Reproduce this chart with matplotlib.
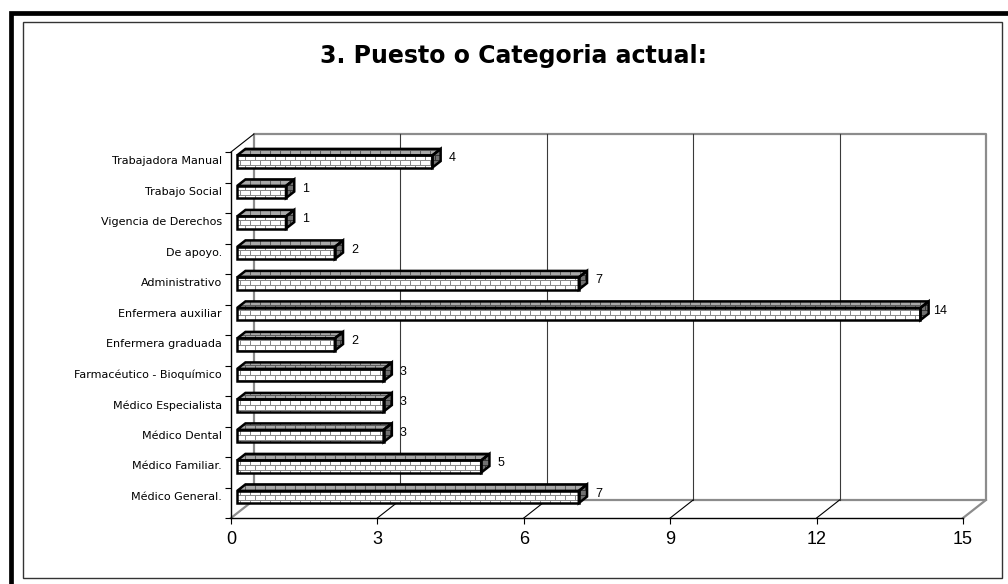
import numpy as np
import matplotlib
matplotlib.use("Agg")
import matplotlib.pyplot as plt
from matplotlib.colors import to_rgb
from matplotlib.patches import Polygon, Rectangle

# Puesto o categoria actual, bottom row first
categories = ["Médico General.", "Médico Familiar.", "Médico Dental",
              "Médico Especialista", "Farmacéutico - Bioquímico",
              "Enfermera graduada", "Enfermera auxiliar", "Administrativo",
              "De apoyo.", "Vigencia de Derechos", "Trabajo Social",
              "Trabajadora Manual"]
counts = [7, 5, 3, 3, 3, 2, 14, 7, 2, 1, 1, 4]
xticks = [0, 3, 6, 9, 12, 15]
title = "3. Puesto o Categoria actual:"

W, H, DPI = 1008, 584, 100
XMAX = 15
NCAT = len(categories)

# oblique depth axis: data units travelled per unit of depth
DX, DY = 0.47, 0.59
BAR_D0, BAR_D1 = 0.27, 0.63     # bar depth span
BAR_LO, BAR_HI = 0.33, 0.73     # bar height within its slot
LABEL_D = 0.38                  # depth at which category labels sit
VAL_DX = 0.53                   # value label centre, right of bar end


def proj(x, y, d):
    return (x + d * DX, y + d * DY)


def brick_texture(brick, mortar):
    """Full-canvas running-bond brick bitmap, fixed to the pixel grid."""
    r, c = np.mgrid[:H, :W]
    odd = (r // 5) % 2 == 1
    mortar_px = (r % 5 == 0) | (c % 10 == np.where(odd, 5, 0))
    img = np.empty((H, W, 3))
    img[:] = to_rgb(brick)
    img[mortar_px] = to_rgb(mortar)
    return img


tex_front = brick_texture("#ffffff", "#8a8a8a")
tex_top = brick_texture("#a8a8a8", "#5e5e5e")
tex_side = brick_texture("#707070", "#363636")

fig = plt.figure(figsize=(W / DPI, H / DPI), dpi=DPI)
fig.patch.set_facecolor("white")

ax = fig.add_axes([231 / W, 66 / H, 732 / W, 366 / H])
ax.set_xlim(0, XMAX)
ax.set_ylim(0, NCAT)
ax.patch.set_visible(False)
for s in ("top", "right"):
    ax.spines[s].set_visible(False)
for s in ("left", "bottom"):
    ax.spines[s].set_color("black")
    ax.spines[s].set_linewidth(1.0)

ax.set_xticks(xticks)
ax.set_xticklabels([str(t) for t in xticks], fontsize=13,
                   family="Liberation Sans")
ax.tick_params(axis="x", direction="out", length=4.3, width=0.8, pad=5.0)
ax.set_yticks(np.arange(NCAT + 1))
ax.set_yticklabels([])
ax.tick_params(axis="y", which="major", direction="out", length=4.3,
               width=0.8)
label_y = np.arange(NCAT) + 0.5 + LABEL_D * DY
ax.set_yticks(label_y, minor=True)
ax.set_yticklabels(categories, minor=True, fontsize=8, family="DejaVu Sans")
ax.tick_params(axis="y", which="minor", length=0, pad=6.5)

# back wall, floor edges and gridlines
wall_kw = dict(color="#8c8c8c", lw=1.6, clip_on=False, zorder=1,
               solid_capstyle="projecting")
back = [proj(0, 0, 1), proj(0, NCAT, 1), proj(XMAX, NCAT, 1),
        proj(XMAX, 0, 1), proj(0, 0, 1)]
ax.plot(*zip(*back), **wall_kw)
for x in (0, XMAX):
    ax.plot(*zip(proj(x, 0, 0), proj(x, 0, 1)), **wall_kw)
ax.plot(*zip(proj(0, NCAT, 0), proj(0, NCAT, 1)), color="black", lw=0.8,
        clip_on=False, zorder=1)
for x in xticks[1:-1]:
    ax.plot(*zip(proj(x, 0, 1), proj(x, NCAT, 1)), color="#3a3a3a", lw=0.8,
            clip_on=False, zorder=1)
    ax.plot(*zip(proj(x, 0, 0), proj(x, 0, 1)), color="black", lw=0.8,
            clip_on=False, zorder=1)

# 3-D bars: textured faces clipped to polygons, then black outlines
for i, v in enumerate(counts):
    lo, hi = i + BAR_LO, i + BAR_HI
    faces = [
        ([proj(0, lo, BAR_D0), proj(v, lo, BAR_D0),
          proj(v, hi, BAR_D0), proj(0, hi, BAR_D0)], tex_front),
        ([proj(0, hi, BAR_D0), proj(v, hi, BAR_D0),
          proj(v, hi, BAR_D1), proj(0, hi, BAR_D1)], tex_top),
        ([proj(v, lo, BAR_D0), proj(v, lo, BAR_D1),
          proj(v, hi, BAR_D1), proj(v, hi, BAR_D0)], tex_side),
    ]
    for verts, tex in faces:
        clip = Polygon(verts, closed=True, transform=ax.transData)
        im = fig.figimage(tex, xo=0, yo=0, origin="upper", zorder=3)
        im.set_clip_path(clip)
        edge = Polygon(verts, closed=True, fill=False, edgecolor="black",
                       lw=1.8, joinstyle="miter", transform=ax.transData,
                       zorder=4)
        fig.add_artist(edge)
    ax.text(v + VAL_DX, i + (BAR_LO + BAR_HI) / 2
            + 0.5 * (BAR_D0 + BAR_D1) * DY, str(v),
            ha="center", va="center", fontsize=9, family="Liberation Sans")

fig.text(513 / W, 1 - 56 / H, title, ha="center", va="center",
         fontsize=17, fontweight="bold", family="DejaVu Sans")

# chart area border and heavy outer frame
fig.add_artist(Rectangle((23 / W, 6 / H), 979 / W, 556 / H, fill=False,
                         edgecolor="#333333", lw=1.0,
                         transform=fig.transFigure, zorder=5))
fig.add_artist(Rectangle((10.5 / W, -30 / H), 1010 / W, 601 / H, fill=False,
                         edgecolor="black", lw=3.4,
                         transform=fig.transFigure, zorder=5))

fig.savefig("out.png", dpi=DPI)
